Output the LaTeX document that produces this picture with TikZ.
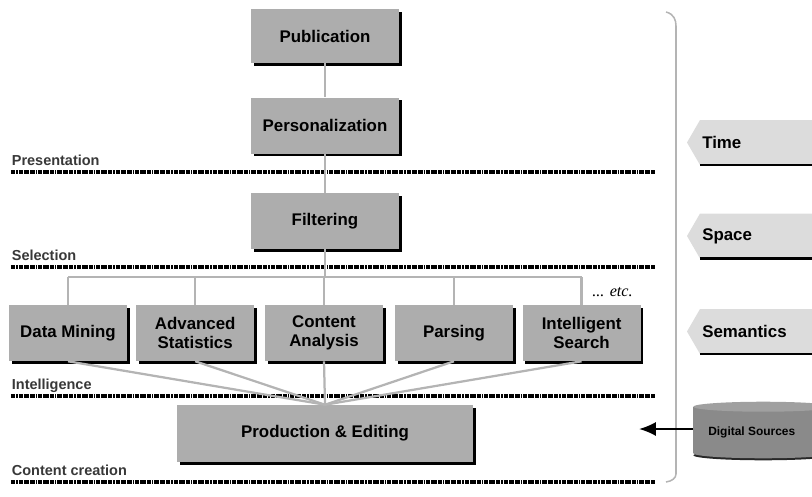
\documentclass[tikz,border=0pt]{standalone}
\usepackage{fontspec}
\setmainfont{Liberation Sans}
\newfontfamily\etcfont{Liberation Serif}
\usepackage{tikz}
\usetikzlibrary{calc, arrows.meta, shadows}
\tikzset{>={Latex[length = 12pt, width = 10pt]}}
\definecolor{boxgray}{RGB}{173, 173, 173}
\definecolor{linkgray}{RGB}{180, 180, 180}
\definecolor{taggray}{RGB}{220, 220, 220}
\definecolor{labelgray}{RGB}{56, 56, 56}
\definecolor{srcgray}{RGB}{138, 138, 138}
\definecolor{srctop}{RGB}{160, 160, 160}
\definecolor{srcdark}{RGB}{40, 40, 40}
\tikzset{
  stage/.style = {fill = boxgray, minimum width = 2.95cm, minimum height = 1.4cm, align = center,
    font = \fontsize{12}{13.5}\selectfont\bfseries,
    drop shadow = {shadow xshift = 0.07cm, shadow yshift = -0.07cm, fill = black, opacity = 1}},
  link/.style = {linkgray, line width = 1.6pt},
  layer/.style = {black, line width = 2.6pt, dash pattern = on 3pt off 0.7pt on 1pt off 0.7pt on 3pt off 0.7pt on 4pt off 0.7pt},
  layername/.style = {anchor = base west, inner sep = 0pt, labelgray, font = \fontsize{10.3}{12}\selectfont\bfseries},
  tagname/.style = {anchor = west, inner sep = 0pt, font = \fontsize{12}{14}\selectfont\bfseries}
}

\begin{document}
\begin{tikzpicture}
\useasboundingbox (0,0) rectangle (20.3,12.4);
\clip (0,0) rectangle (20.3,12.4);

\foreach \y/\name/\id in {8.1/Presentation/pres, 5.725/Selection/sel, 2.5/Intelligence/intel, 0.35/Content creation/cont} {
  \draw[layer] (0.275,\y) -- (16.4,\y);
  \node[layername] (\id) at (0.29,\y+0.17) {\name};
}

\node[stage, minimum width = 3.7cm, minimum height = 1.35cm] (pub) at (8.125,11.5) {Publication};
\node[stage, minimum width = 3.7cm] (pers) at (8.125,9.2625) {Personalization};
\node[stage, minimum width = 3.7cm] (filt) at (8.125,6.875) {Filtering};
\node[stage] (dm) at (1.7,4.075) {Data Mining};
\node[stage] (as) at (4.88,4.075) {Advanced\\Statistics};
\node[stage] (ca) at (8.1,4.075) {Content\\Analysis};
\node[stage] (pa) at (11.35,4.075) {Parsing};
\node[stage] (is) at (14.54,4.075) {Intelligent\\Search};
\node[stage, minimum width = 7.4cm, minimum height = 1.425cm] (prod) at (8.125,1.5625) {Production \& Editing};

\coordinate (bar) at (8.1,5.475);
\draw[link] (pub) -- (pers);
\draw[link] (pers) -- (filt);
\draw[link] (filt.south) -- (filt.south |- bar);
\draw[link] (dm.north |- bar) -- (is.north |- bar);
\foreach \n in {dm, as, ca, pa, is} {
  \draw[link] (\n.north) -- (\n.north |- bar);
  \draw[link] (\n.south) -- (prod.north);
}
\node[font = \etcfont\itshape\fontsize{11.5}{13}\selectfont, anchor = base west, inner sep = 0pt] (etc) at (14.8,5.0) {... etc.};

\draw[link, line width = 1.1pt] (16.65,12.1) .. controls (16.85,12.05) and (16.9,11.9) .. (16.9,11.75) -- (16.9,0.55) .. controls (16.9,0.45) and (16.8,0.37) .. (16.65,0.35);

\foreach \y/\name/\id in {8.8375/Time/time, 6.5/Space/space, 4.1125/Semantics/sem} {
  \fill[taggray] (17.5,\y+0.5625) -- (17.175,\y) -- (17.5,\y-0.5625) -- (20.5,\y-0.5625) -- (20.5,\y+0.5625) -- cycle;
  \draw[line width = 1.6pt] (17.5,\y-0.5625) -- (20.5,\y-0.5625);
  \node[tagname] (\id) at (17.55,\y) {\name};
}

\node[fill = srcgray, minimum width = 3.5cm, minimum height = 1.15cm, anchor = west, inner sep = 0pt] (src) at (17.325,1.65) {};
\fill[srcdark] ($(src.south)+(0,-0.05)$) ellipse [x radius = 1.75, y radius = 0.125];
\fill[srcgray] (src.south) ellipse [x radius = 1.75, y radius = 0.125];
\fill[srctop] (src.north) ellipse [x radius = 1.75, y radius = 0.125];
\node[font = \fontsize{8.5}{10}\selectfont\bfseries, anchor = west, inner sep = 0pt] (srctext) at (17.7,1.6) {Digital Sources};
\coordinate (srcend) at (15.975,1.675);
\draw[->, line width = 1.4pt] (src.west |- srcend) -- (srcend);
\end{tikzpicture}
\end{document}
